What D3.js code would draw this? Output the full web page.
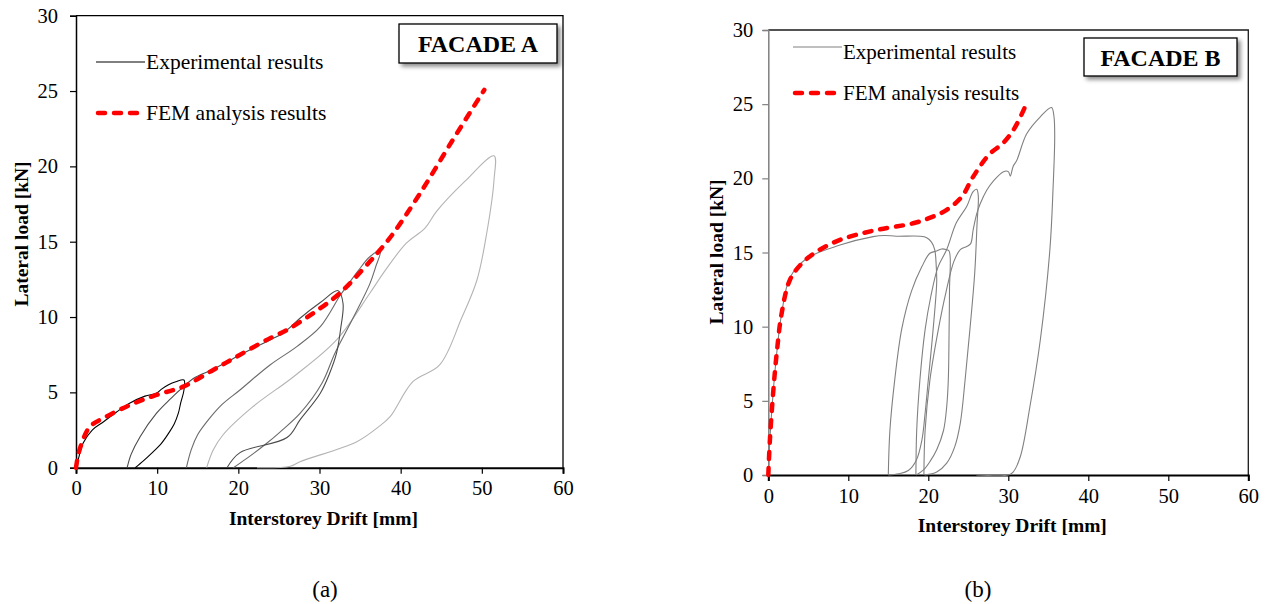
<!DOCTYPE html>
<html>
<head>
<meta charset="utf-8">
<script src="https://cdn.jsdelivr.net/npm/d3@7/dist/d3.min.js"></script>
<style>
  html, body { margin: 0; padding: 0; background: #fff; }
  svg { display: block; font-family: "Liberation Serif", "Times New Roman", serif; }
</style>
</head>
<body>
<svg id="chart" width="1265" height="604"></svg>
<script>
// ---------- data: [interstorey drift (mm), lateral load (kN)] ----------
const xTicks = [0, 10, 20, 30, 40, 50, 60];
const yTicks = [0, 5, 10, 15, 20, 25, 30];

// Facade A - experimental cycles
const expA1 = [[0,0],[0.3,0.6],[0.9,1.65],[2,2.5],[3.4,3.05],[5,3.7],[6.6,4.28],[8.5,4.75],[9.9,4.94],[10.5,5.2],[11.4,5.5],[12.3,5.7],[13.3,5.82],[13.3,5.16],[12.9,4.3],[12.6,3.6],[12.1,2.9],[11.4,2.28],[10.5,1.6],[9.3,0.95],[8.3,0.45],[7.3,0]];
const expA2 = [[6.3,0],[6.8,0.9],[7.9,2.06],[9.9,3.6],[11.7,4.6],[13.0,5.27],[14.7,6.0],[16.9,6.53],[19.8,7.37],[23.9,8.48],[25.5,8.92],[27.6,9.92],[30.1,10.96],[32.3,11.75],[32.9,10.9],[32.6,9.2],[32.1,7.6],[31.2,6.2],[30.1,4.94],[27.6,3.17],[26,2.0],[20.2,1.0],[18.6,0]];
const expA3 = [[13.6,0],[14.2,1.2],[15,2.2],[16.3,3.17],[18,4.2],[20.2,5.16],[23.9,6.82],[27.2,8.04],[30.1,9.36],[32.5,11.4],[33.3,12.0],[34.8,13.1],[36.2,14.0],[37.5,14.4],[36.9,13.3],[36.2,12.2],[34.2,10.0],[31.9,7.6],[30.3,5.6],[27.6,3.6],[25.2,2.4],[23.5,1.62],[21,0.6],[19.4,0]];
const expA4 = [[16.1,0],[16.9,1.17],[18.1,2.17],[21.8,4.05],[26.8,6.04],[32.1,8.48],[36.2,11.58],[38.1,13.1],[40.7,14.9],[43.0,15.9],[44.4,17.0],[47.9,19.0],[51.5,20.7],[51.5,19.1],[50.6,15.56],[49.4,12.46],[47.5,9.92],[44.8,6.82],[41.5,5.71],[38.7,3.39],[37.2,2.68],[34.6,1.73],[27.6,0.4],[26.4,0.1],[22.3,0]];

// Facade A - FEM analysis
const femA = [[0,0],[0.25,0.8],[0.7,1.62],[1.7,2.72],[3.4,3.3],[6.65,4.16],[9.9,4.83],[13.2,5.38],[16.9,6.49],[19.8,7.37],[23.1,8.37],[24.3,8.7],[26,9.14],[29.2,10.25],[32.5,11.58],[36.2,13.68],[37.45,14.45],[39.1,15.56],[42.5,18.3],[46.3,21.65],[50.3,25.07]];

// Facade B - experimental cycles
const expB1 = [[0,0],[0.2,2.4],[0.6,5.5],[1.05,8.2],[1.67,10.9],[2.7,13.3],[4.8,14.6],[8.96,15.5],[13.1,16.07],[14.5,16.15],[16,16.1],[18.96,16.1],[19.8,16.0],[20.4,15.7],[20.8,15.2],[21.0,14.0],[21.05,13.0],[20.6,9.8],[20.0,6.4],[19.6,4.16],[19.2,2.36],[18.5,1.0],[17.5,0.3],[16.3,0.08],[15.0,0]];
const expB2 = [[15.0,0],[15.2,3.0],[15.8,6.4],[16.7,9.9],[17.9,12.4],[19.2,14.05],[20.2,14.95],[21.05,15.1],[21.7,15.24],[22.2,15.2],[22.6,15.1],[22.65,12.5],[22.6,9.8],[22.5,6.4],[22.3,4.6],[21.9,3.0],[21.05,1.7],[20.2,0.9],[19.4,0.34],[18.5,0]];
const expB3 = [[18.45,0],[18.55,3.0],[18.95,6.4],[19.6,9.8],[20.3,12.0],[21.2,14.0],[22.3,15.2],[23.5,17.0],[24.8,18.1],[25.6,19.1],[26.05,19.26],[26.25,18.8],[26.1,17.0],[25.8,13.6],[25.2,9.8],[24.6,6.4],[24.0,3.5],[23.3,1.9],[22.3,0.8],[21.05,0.2],[19.55,0]];
const expB4 = [[19.45,0],[19.6,3.0],[20.2,6.4],[21.25,9.8],[22.2,12.3],[23.2,14.4],[24.0,15.2],[24.8,15.4],[25.3,15.6],[25.6,16.5],[26.05,17.6],[26.5,18.3],[27.3,19.2],[28.1,19.8],[29.4,20.45],[30.0,20.45],[30.25,20.15],[30.6,20.8],[31.05,21.2],[32.3,23.0],[34.0,24.15],[35.4,24.77],[35.7,24.2],[35.8,22.8],[35.6,19.4],[35.2,15.2],[34.0,9.1],[32.7,4.6],[31.5,1.23],[30.6,0.2],[30.0,0],[26.0,0]];

// Facade B - FEM analysis
const femB = [[0,0],[0.2,2.36],[0.6,5.5],[1.05,8.2],[1.67,10.9],[2.7,13.15],[4.2,14.27],[6.05,15.06],[8.96,15.85],[13.1,16.47],[18.1,16.97],[20.5,17.4],[22.3,17.87],[24.2,18.77],[25.6,20.1],[27.6,21.6],[29.4,22.4],[30.8,23.4],[32.2,24.95]];

// ---------- drawing ----------
const svg = d3.select("#chart");
const defs = svg.append("defs");
const shadow = defs.append("filter").attr("id", "boxShadow")
  .attr("x", "-10%").attr("y", "-20%").attr("width", "130%").attr("height", "160%");
shadow.append("feDropShadow").attr("dx", 3).attr("dy", 3).attr("stdDeviation", 2)
  .attr("flood-color", "#000").attr("flood-opacity", 0.45);

function panel(cfg) {
  const x = d3.scaleLinear().domain([0, 60]).range([cfg.left, cfg.right]);
  const y = d3.scaleLinear().domain([0, 30]).range([cfg.bottom, cfg.top]);
  const g = svg.append("g");

  // frame (top + right)
  g.append("path")
    .attr("d", `M${cfg.left},${cfg.top}H${cfg.right}V${cfg.bottom}`)
    .attr("fill", "none").attr("stroke", cfg.frameColor).attr("stroke-width", 1.3);

  // y axis
  const yAxis = g.append("g").attr("transform", `translate(${cfg.left},0)`)
    .call(d3.axisLeft(y).tickValues(yTicks).tickSize(6).tickPadding(cfg.yPad).tickFormat(d3.format("d")));
  yAxis.select(".domain").attr("stroke", cfg.yAxisColor).attr("stroke-width", 1.5);
  yAxis.selectAll(".tick line").attr("stroke", cfg.yAxisColor).attr("stroke-width", 1.2);
  yAxis.selectAll("text").attr("font-family", "Liberation Serif, serif")
    .attr("font-size", 20.5).attr("fill", "#000");

  // x axis
  const xAxis = g.append("g").attr("transform", `translate(0,${cfg.bottom})`)
    .call(d3.axisBottom(x).tickValues(xTicks).tickSize(6).tickPadding(7).tickFormat(d3.format("d")));
  xAxis.select(".domain").attr("stroke", "#000").attr("stroke-width", 2);
  xAxis.selectAll(".tick line").attr("stroke", "#000").attr("stroke-width", 1.2);
  xAxis.selectAll("text").attr("font-family", "Liberation Serif, serif")
    .attr("font-size", 20.5).attr("fill", "#000");

  const line = d3.line().x(d => x(d[0])).y(d => y(d[1])).curve(d3.curveCatmullRom.alpha(0.5));

  // experimental cycles
  cfg.exp.forEach(s => {
    g.append("path").datum(s.data).attr("d", line)
      .attr("fill", "none").attr("stroke", s.color).attr("stroke-width", 1.1)
      .attr("stroke-linejoin", "round");
  });

  // FEM curve
  g.append("path").datum(cfg.fem).attr("d", line)
    .attr("fill", "none").attr("stroke", "#ff0000").attr("stroke-width", 4.5)
    .attr("stroke-dasharray", "7,9").attr("stroke-linecap", "round");

  // legend
  const lg = cfg.legend;
  g.append("line").attr("x1", lg.x1).attr("x2", lg.x2).attr("y1", lg.y1).attr("y2", lg.y1)
    .attr("stroke", cfg.legendColor).attr("stroke-width", 1.1);
  g.append("text").attr("x", lg.x2 + 1).attr("y", lg.y1 + lg.dy1)
    .attr("font-size", lg.size).attr("fill", "#000").text("Experimental results");
  g.append("line").attr("x1", lg.x1 + 2).attr("x2", lg.x2 - 2).attr("y1", lg.y2).attr("y2", lg.y2)
    .attr("stroke", "#ff0000").attr("stroke-width", 4.5)
    .attr("stroke-dasharray", "7,9").attr("stroke-linecap", "round");
  g.append("text").attr("x", lg.x2 + 1).attr("y", lg.y2 + 7)
    .attr("font-size", lg.size).attr("fill", "#000").text("FEM analysis results");

  // title box
  const b = cfg.box;
  g.append("rect").attr("x", b.x).attr("y", b.y).attr("width", b.w).attr("height", b.h)
    .attr("fill", "#fff").attr("stroke", "#000").attr("stroke-width", 1.3)
    .attr("filter", "url(#boxShadow)");
  g.append("text").attr("x", b.x + b.w / 2).attr("y", b.y + b.h / 2 + 8.5)
    .attr("text-anchor", "middle").attr("font-weight", "bold").attr("font-size", 24)
    .attr("fill", "#000").text(cfg.title);

  // axis titles
  g.append("text").attr("x", (cfg.left + cfg.right) / 2 + 4).attr("y", cfg.bottom + cfg.xTitleDy)
    .attr("text-anchor", "middle").attr("font-weight", "bold").attr("font-size", 19.5)
    .attr("fill", "#000").text("Interstorey Drift [mm]");
  g.append("text")
    .attr("transform", `translate(${cfg.yTitleX},${cfg.yTitleY}) rotate(-90)`)
    .attr("text-anchor", "middle").attr("font-weight", "bold").attr("font-size", 19.5)
    .attr("fill", "#000").text("Lateral load [kN]");

  // sub-caption
  g.append("text").attr("x", cfg.capX).attr("y", 597)
    .attr("text-anchor", "middle").attr("font-size", 23).attr("fill", "#000").text(cfg.caption);
}

panel({
  left: 76, right: 563, top: 15.7, bottom: 467.7,
  frameColor: "#000", yAxisColor: "#000", legendColor: "#000", yPad: 12,
  exp: [
    { data: expA4, color: "#b4b4b4" },
    { data: expA3, color: "#6a6a6a" },
    { data: expA2, color: "#4a4a4a" },
    { data: expA1, color: "#000" }
  ],
  fem: femA,
  legend: { x1: 96, x2: 145, y1: 62, y2: 113, dy1: 7, size: 21.5 },
  box: { x: 399, y: 24, w: 158, h: 39 },
  title: "FACADE A",
  xTitleDy: 57, yTitleX: 28, yTitleY: 234,
  capX: 325, caption: "(a)"
});

panel({
  left: 768.3, right: 1248.3, top: 30, bottom: 475,
  frameColor: "#1a1a1a", yAxisColor: "#808080", legendColor: "#808080", yPad: 9,
  exp: [
    { data: expB1, color: "#808080" },
    { data: expB2, color: "#808080" },
    { data: expB3, color: "#808080" },
    { data: expB4, color: "#808080" }
  ],
  fem: femB,
  legend: { x1: 793, x2: 842, y1: 47, y2: 93, dy1: 11.5, size: 21 },
  box: { x: 1084, y: 38, w: 153, h: 38 },
  title: "FACADE B",
  xTitleDy: 57, yTitleX: 723, yTitleY: 252,
  capX: 978, caption: "(b)"
});
</script>
</body>
</html>
